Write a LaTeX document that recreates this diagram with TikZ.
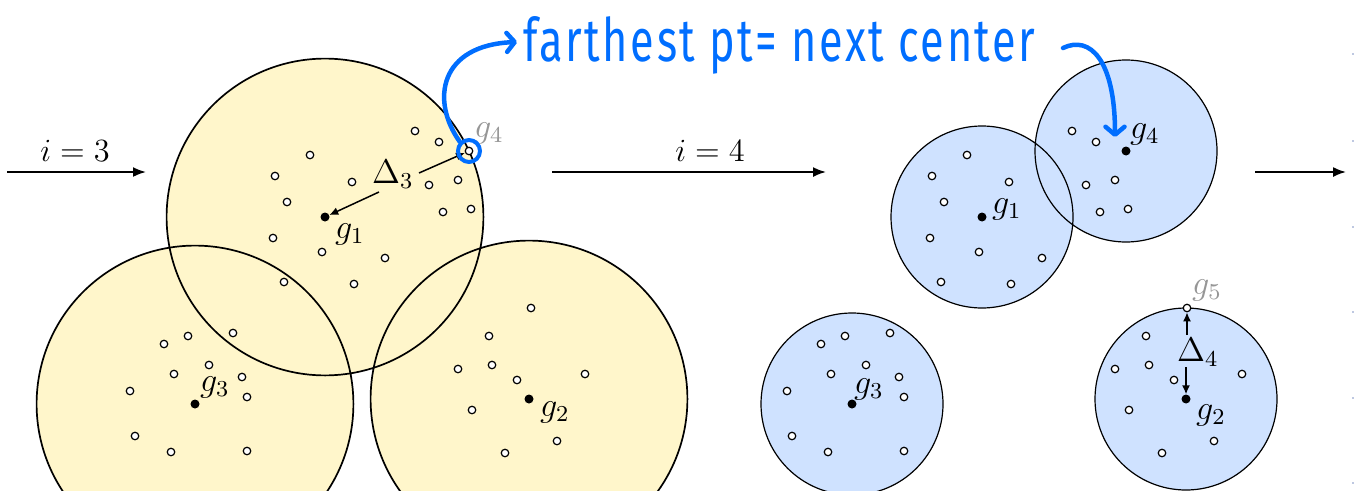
\documentclass[tikz,border=0pt]{standalone}
\usepackage{fontspec}
\newfontfamily\handfont[LetterSpace=6]{Fira Sans}
\usetikzlibrary{arrows.meta}
\definecolor{ylw}{RGB}{255,246,203}
\definecolor{lblue}{RGB}{207,226,255}
\definecolor{hblue}{RGB}{0,110,255}
\definecolor{gtxt}{RGB}{150,150,150}
\definecolor{faint}{RGB}{190,200,225}
\newcommand{\mylbl}[1]{\scalebox{2.85}{\fontsize{12}{14}\selectfont$#1$}}
\newcommand{\myilbl}[1]{\scalebox{2.7}{\fontsize{12}{14}\selectfont$#1$}}
\begin{document}
\begin{tikzpicture}[x=1pt,y=-1pt,
  odot/.style={circle,draw=black,fill=white,line width=1.2pt,inner sep=0pt,minimum size=7.5pt},
  fdot/.style={circle,fill=black,inner sep=0pt,minimum size=9pt},
  lab/.style={inner sep=0pt,anchor=base west},
  glab/.style={lab,text=gtxt},
  ilab/.style={inner sep=0pt,anchor=base},
  stepar/.style={line width=1.8pt,-{Latex[length=13pt,width=10pt]}},
  darr/.style={line width=1.5pt,-{Latex[length=9pt,width=8pt]}},
  barrow/.style={hblue,line width=4.5pt,line cap=round,-{Straight Barb[length=8pt,width=19pt,round]}},
  bigc/.style={line width=1.7pt},
  smallc/.style={line width=1.2pt}
]
\useasboundingbox (0,0) rectangle (1354,490);
\clip (0,0) rectangle (1354,490);

% centres
\coordinate (L1) at (325,217);
\coordinate (L2) at (529,399);
\coordinate (L3) at (195,404);
\coordinate (L4) at (469,151);
\coordinate (R1) at (982,217);
\coordinate (R2) at (1186,399);
\coordinate (R3) at (852,404);
\coordinate (R4) at (1126,151);
\coordinate (R5) at (1187,308);

% left balls
\fill[ylw] (L1) circle[radius=158.4] (L2) circle[radius=158.4] (L3) circle[radius=158.4];
\draw[bigc] (L1) circle[radius=158.4] (L2) circle[radius=158.4] (L3) circle[radius=158.4];
% right balls
\fill[lblue] (R1) circle[radius=91] (R2) circle[radius=91] (R3) circle[radius=91] (R4) circle[radius=91];
\draw[smallc] (R1) circle[radius=91] (R2) circle[radius=91] (R3) circle[radius=91] (R4) circle[radius=91];

% data points (left, and the same shifted right)
\foreach \x/\y [count=\i] in {415/131,439/142,310/155,275/176,352/182,429/185,458/180,287/202,443/212,471/209,273/238,322/252,385/258,284/282,354/284,
  188/336,164/344,233/333,209/365,174/374,242/377,247/397,130/391,135/436,171/452,247/451,
  489/336,492/365,458/369,517/380,585/374,472/410,557/441,505/453}{
  \node[odot] (pl\i) at (\x,\y) {};
  \node[odot] (pr\i) at (\x+657,\y) {};
}
\node[odot] (g4l) at (L4) {};
\node[odot] (pl0) at (531,308) {};
\node[odot] (g5r) at (R5) {};

% centres
\node[fdot] (g1l) at (L1) {};
\node[fdot] (g2l) at (L2) {};
\node[fdot] (g3l) at (L3) {};
\node[fdot] (g1r) at (R1) {};
\node[fdot] (g2r) at (R2) {};
\node[fdot] (g3r) at (R3) {};
\node[fdot] (g4r) at (R4) {};

% labels
\node[lab] (lg1l) at (335,238) {\mylbl{g_1}};
\node[lab] (lg2l) at (540,416) {\mylbl{g_2}};
\node[lab] (lg3l) at (200,391) {\mylbl{g_3}};
\node[glab] (lg4l) at (474,137) {\mylbl{g_4}};
\node[lab] (lg1r) at (992,213) {\mylbl{g_1}};
\node[lab] (lg2r) at (1196,419) {\mylbl{g_2}};
\node[lab] (lg3r) at (854,393) {\mylbl{g_3}};
\node[lab] (lg4r) at (1130,138) {\mylbl{g_4}};
\node[glab] (lg5r) at (1192,294) {\mylbl{g_5}};

% Delta_3
\node[lab] (d3) at (372,183) {\mylbl{\Delta_3}};
\coordinate (d3a) at (379,192);
\coordinate (d3b) at (419,173);
\draw[darr] (d3a) -- (g1l);
\draw[darr] (d3b) -- (g4l);
% Delta_4
\node[lab] (d4) at (1177,361) {\mylbl{\Delta_4}};
\coordinate (d4a) at (1187,335);
\coordinate (d4b) at (1186,367);
\draw[darr] (d4a) -- (g5r);
\draw[darr] (d4b) -- (g2r);

% step arrows
\node[ilab] (i3) at (75,161) {\myilbl{i=3}};
\node[ilab] (i4) at (710,161) {\myilbl{i=4}};
\coordinate (a1s) at (7,172);  \coordinate (a1e) at (146,172);
\coordinate (a2s) at (552,172); \coordinate (a2e) at (826,172);
\coordinate (a3s) at (1255,172); \coordinate (a3e) at (1346,172);
\draw[stepar] (a1s) -- (a1e);
\draw[stepar] (a2s) -- (a2e);
\draw[stepar] (a3s) -- (a3e);

% blue annotation
\node[circle,draw=hblue,line width=4pt,minimum size=22pt,inner sep=0pt] (hl) at (L4) {};
\node[anchor=base west,inner sep=0pt,text=hblue] (txt) at (523,61)
  {\resizebox{512pt}{45pt}{\handfont farthest pt= next center}};
\coordinate (t1) at (517,42);
\coordinate (t2s) at (1063,48);
\coordinate (t2e) at (1115,137);
\draw[barrow] (hl.135) .. controls (430,100) and (440,45) .. (t1);
\draw[barrow] (t2s) .. controls (1090,35) and (1115,60) .. (t2e);

% faint marks at the right edge
\foreach \y [count=\k] in {54,141,227,312,398,483}
  \fill[faint] (1352,\y-1) rectangle (1354,\y+1);
\end{tikzpicture}
\end{document}
